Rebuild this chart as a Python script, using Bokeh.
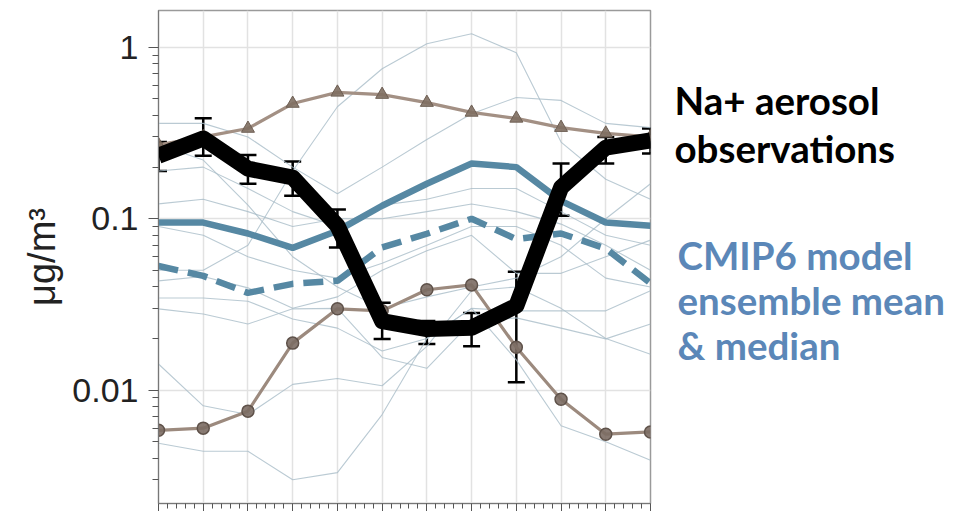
from bokeh.plotting import figure
from bokeh.layouts import row
from bokeh.models import (Range1d, FixedTicker, PrintfTickFormatter, ColumnDataSource,
                          Whisker, TeeHead, CustomJSTickFormatter)
from bokeh.core.properties import value
from bokeh.embed import file_html
from bokeh.resources import INLINE

months = [1, 2, 3, 4, 5, 6, 7, 8, 9, 10, 11, 12]

obs = [0.233, 0.294, 0.196, 0.174, 0.091, 0.0253, 0.0227, 0.0231, 0.031, 0.152, 0.26, 0.286]
obs_upper = [0.28, 0.385, 0.235, 0.216, 0.113, 0.0323, 0.0253, 0.0282, 0.049, 0.21, 0.3, 0.336]
obs_lower = [0.19, 0.233, 0.16, 0.136, 0.068, 0.0199, 0.0186, 0.018, 0.0111, 0.104, 0.21, 0.24]

model_high = [0.27, 0.30, 0.336, 0.47, 0.546, 0.53, 0.476, 0.417, 0.385, 0.34, 0.315, 0.30]
model_low = [0.00583, 0.006, 0.00754, 0.0188, 0.0298, 0.029, 0.0385, 0.0411, 0.0178, 0.00885, 0.00553, 0.0057]

ens_mean = [0.095, 0.095, 0.082, 0.0676, 0.085, 0.119, 0.16, 0.21, 0.20, 0.127, 0.095, 0.091]
ens_median = [0.053, 0.0464, 0.0369, 0.0417, 0.0434, 0.068, 0.0817, 0.10, 0.076, 0.082, 0.067, 0.042]

models = [
    [0.05, 0.05, 0.07, 0.19, 0.45, 0.75, 1.05, 1.2, 0.93, 0.28, 0.17, 0.13],
    [0.36, 0.36, 0.30, 0.20, 0.14, 0.20, 0.29, 0.41, 0.51, 0.49, 0.36, 0.34],
    [0.19, 0.20, 0.15, 0.11, 0.09, 0.12, 0.13, 0.15, 0.15, 0.11, 0.08, 0.07],
    [0.122, 0.13, 0.11, 0.09, 0.10, 0.10, 0.11, 0.122, 0.11, 0.093, 0.07, 0.05],
    [0.0434, 0.046, 0.0395, 0.03, 0.035, 0.05, 0.065, 0.08, 0.048, 0.048, 0.06, 0.075],
    [0.0345, 0.0345, 0.033, 0.026, 0.023, 0.0169, 0.02, 0.03, 0.029, 0.029, 0.029, 0.038],
    [0.0298, 0.0278, 0.0243, 0.0298, 0.03, 0.0155, 0.0134, 0.025, 0.0264, 0.023, 0.0199, 0.0243],
    [0.0142, 0.0081, 0.0072, 0.0108, 0.0117, 0.0106, 0.018, 0.038, 0.04, 0.03, 0.02, 0.0162],
    [0.0049, 0.0044, 0.0044, 0.003, 0.0033, 0.0072, 0.02, 0.03, 0.015, 0.0062, 0.005, 0.0039],
    [0.27, 0.22, 0.12, 0.06, 0.04, 0.03, 0.035, 0.04, 0.045, 0.06, 0.10, 0.16],
    [0.09, 0.08, 0.06, 0.05, 0.045, 0.055, 0.07, 0.09, 0.09, 0.07, 0.045, 0.04],
]

y_major = [0.01, 0.1, 1]
y_minor = [k * 10.0 ** e for e in (-3, -2, -1) for k in range(2, 10)]
x_minor = [m + f / 5 for m in range(1, 12) for f in range(1, 5)]

title_obs = ["Na+ aerosol", "observations"]
title_model = ["CMIP6 model", "ensemble mean", "& median"]

p = figure(width=652, height=511, y_axis_type="log", output_backend="svg",
           toolbar_location=None, x_range=Range1d(1, 12), y_range=Range1d(0.00218, 1.64),
           min_border_left=158, min_border_right=2, min_border_top=10, min_border_bottom=0)
p.background_fill_color = "white"
p.border_fill_color = "white"
p.outline_line_color = "#9a9a9a"
p.outline_line_width = 1.5

p.xgrid.grid_line_color = "#e2e2e2"
p.ygrid.grid_line_color = "#e2e2e2"
p.xgrid.grid_line_width = 1.5
p.ygrid.grid_line_width = 1.5

p.xaxis.ticker = FixedTicker(ticks=months, minor_ticks=x_minor)
p.xaxis.formatter = CustomJSTickFormatter(code="return ''")
p.xaxis.major_label_text_font_size = "1px"
p.xaxis.major_label_standoff = 0
p.xaxis.major_tick_out = 8
p.xaxis.major_tick_in = 0
p.xaxis.minor_tick_out = 5
p.xaxis.minor_tick_in = 0
p.xaxis.axis_line_color = "#777777"
p.xaxis.major_tick_line_color = "#555555"
p.xaxis.minor_tick_line_color = "#555555"

p.yaxis.ticker = FixedTicker(ticks=y_major, minor_ticks=y_minor)
p.yaxis.formatter = PrintfTickFormatter(format="%g")
p.yaxis.major_label_text_font = "Liberation Sans"
p.yaxis.major_label_text_font_size = "34px"
p.yaxis.major_label_text_color = "#222222"
p.yaxis.major_label_standoff = 10
p.yaxis.major_tick_out = 10
p.yaxis.major_tick_in = 0
p.yaxis.minor_tick_out = 6
p.yaxis.minor_tick_in = 0
p.yaxis.axis_line_color = "#777777"
p.yaxis.major_tick_line_color = "#555555"
p.yaxis.minor_tick_line_color = "#555555"
p.yaxis.axis_label = "\u03bcg/m\u00b3"
p.yaxis.axis_label_text_font = "Liberation Sans"
p.yaxis.axis_label_text_font_size = "38px"
p.yaxis.axis_label_text_font_style = "normal"
p.yaxis.axis_label_text_color = "#222222"
p.yaxis.axis_label_standoff = 6

for m in models:
    p.line(months, m, line_color="#a9bdc8", line_width=1.1, line_alpha=0.8)

p.line(months, ens_mean, line_color="#5688a3", line_width=6.5)
p.line(months, ens_median, line_color="#5688a3", line_width=6.5, line_dash="20 10")

p.line(months, model_high, line_color="#a39084", line_width=3.2)
p.scatter(months, model_high, marker="triangle", size=13, fill_color="#806f62",
          line_color="#6e5f54", fill_alpha=0.9)
p.line(months, model_low, line_color="#9c8a7e", line_width=3.2)
p.scatter(months, model_low, marker="circle", size=12, fill_color="#7b6c63",
          line_color="#5f524a", line_width=1.5, fill_alpha=0.9)

p.line(months, obs, line_color="black", line_width=16, line_join="round")

src = ColumnDataSource(dict(x=months, upper=obs_upper, lower=obs_lower))
w = Whisker(source=src, base="x", upper="upper", lower="lower", line_color="black",
            line_width=2.5,
            upper_head=TeeHead(size=17, line_width=2.5, line_color="black"),
            lower_head=TeeHead(size=17, line_width=2.5, line_color="black"))
p.add_layout(w)

# text panel on the right
q = figure(width=312, height=511, output_backend="svg", toolbar_location=None,
           x_range=Range1d(0, 312), y_range=Range1d(0, 511),
           x_axis_location=None, y_axis_location=None,
           min_border_left=0, min_border_right=0, min_border_top=0, min_border_bottom=0)
q.grid.visible = False
q.outline_line_color = None
q.background_fill_color = "white"
q.border_fill_color = "white"

obs_src = ColumnDataSource(dict(x=[22, 22], y=[418, 368], t=title_obs))
q.text(x="x", y="y", text="t", source=obs_src, text_font=value("Lato"),
       text_font_style="bold", text_font_size="38.5px", text_color="black",
       text_baseline="alphabetic")
mod_src = ColumnDataSource(dict(x=[25, 25, 25], y=[258, 211, 164], t=title_model))
q.text(x="x", y="y", text="t", source=mod_src, text_font=value("Lato"),
       text_font_style="bold", text_font_size="38.5px", text_color="#5b87b8",
       text_baseline="alphabetic")

open("out.html", "w").write(file_html(row(p, q), INLINE))
